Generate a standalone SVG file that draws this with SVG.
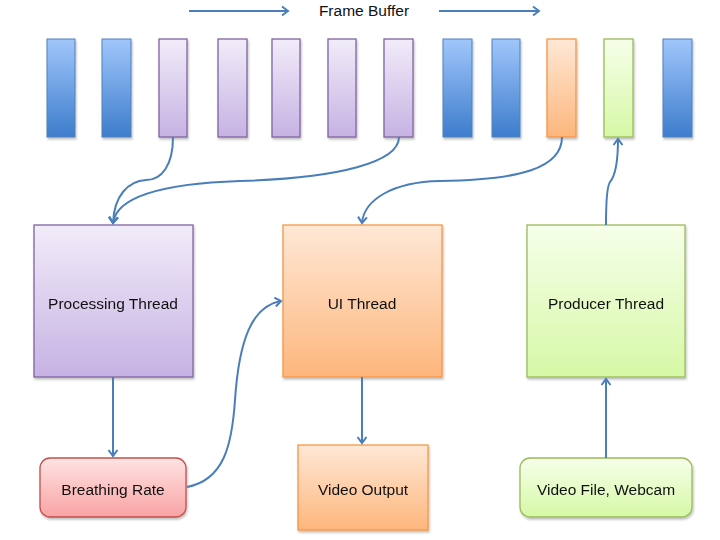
<svg xmlns="http://www.w3.org/2000/svg" width="720" height="540" viewBox="0 0 720 540">
<defs>
  <linearGradient id="gBlue" x1="0" y1="0" x2="0" y2="1">
    <stop offset="0" stop-color="#a0c6fb"/>
    <stop offset="1" stop-color="#3d7dcc"/>
  </linearGradient>
  <linearGradient id="gPurple" x1="0" y1="0" x2="0" y2="1">
    <stop offset="0" stop-color="#f1ecf9"/>
    <stop offset="1" stop-color="#c6b2e3"/>
  </linearGradient>
  <linearGradient id="gOrange" x1="0" y1="0" x2="0" y2="1">
    <stop offset="0" stop-color="#ffe8d6"/>
    <stop offset="1" stop-color="#fdb67c"/>
  </linearGradient>
  <linearGradient id="gGreen" x1="0" y1="0" x2="0" y2="1">
    <stop offset="0" stop-color="#f6ffea"/>
    <stop offset="1" stop-color="#d6f8a6"/>
  </linearGradient>
  <linearGradient id="gRed" x1="0" y1="0" x2="0" y2="1">
    <stop offset="0" stop-color="#ffe3e3"/>
    <stop offset="1" stop-color="#f9a3a3"/>
  </linearGradient>
  <filter id="shadow" x="-10%" y="-10%" width="130%" height="130%">
    <feDropShadow dx="1" dy="2" stdDeviation="1.2" flood-color="#000" flood-opacity="0.25"/>
  </filter>
  <marker id="arrow" viewBox="-8 -6 10 12" markerWidth="10" markerHeight="12" refX="0" refY="0" markerUnits="userSpaceOnUse" orient="auto">
    <path d="M-6,-4.5 L0,0 L-6,4.5" fill="none" stroke="#4a7ebb" stroke-width="2" stroke-linejoin="miter"/>
  </marker>
</defs>
<style>
  .lbl { font-family: "Liberation Sans", Arial, sans-serif; font-size: 15.5px; fill: #111; text-anchor: middle; }
  .blue { fill: url(#gBlue); stroke: #4f81bd; stroke-width: 1; }
  .purple { fill: url(#gPurple); stroke: #8064a2; stroke-width: 1.3; }
  .orange { fill: url(#gOrange); stroke: #f79646; stroke-width: 1.3; }
  .green { fill: url(#gGreen); stroke: #9bbb59; stroke-width: 1.3; }
  .red { fill: url(#gRed); stroke: #c0504d; stroke-width: 1.3; }
  .conn { fill: none; stroke: #4a7ebb; stroke-width: 2; marker-end: url(#arrow); }
  .sh { filter: url(#shadow); }
</style>
<rect width="720" height="540" fill="#ffffff"/>

<g id="title">
  <text class="lbl" x="364" y="16">Frame Buffer</text>
</g>

<g id="frames" class="sh">
  <rect id="f1" class="blue" x="47" y="39" width="28" height="98"/>
  <rect id="f2" class="blue" x="102" y="39" width="29" height="98"/>
  <rect id="f3" class="purple" x="159" y="39" width="28" height="98"/>
  <rect id="f4" class="purple" x="218" y="39" width="29" height="98"/>
  <rect id="f5" class="purple" x="272" y="39" width="28" height="98"/>
  <rect id="f6" class="purple" x="328" y="39" width="28" height="98"/>
  <rect id="f7" class="purple" x="384" y="39" width="29" height="98"/>
  <rect id="f8" class="blue" x="443" y="39" width="29" height="98"/>
  <rect id="f9" class="blue" x="492" y="39" width="28" height="98"/>
  <rect id="f10" class="orange" x="547" y="39" width="29" height="98"/>
  <rect id="f11" class="green" x="604" y="39" width="29" height="98"/>
  <rect id="f12" class="blue" x="663" y="39" width="29" height="98"/>
</g>

<g id="processing" class="sh">
  <rect class="purple" x="34" y="225" width="159" height="152"/>
  <text class="lbl" x="113" y="309">Processing Thread</text>
</g>

<g id="ui" class="sh">
  <rect class="orange" x="283" y="225" width="159" height="152"/>
  <text class="lbl" x="362" y="309">UI Thread</text>
</g>

<g id="producer" class="sh">
  <rect class="green" x="527" y="225" width="158" height="152"/>
  <text class="lbl" x="606" y="309">Producer Thread</text>
</g>

<g id="breathing" class="sh">
  <rect class="red" x="40" y="458" width="146" height="59" rx="10" ry="10"/>
  <text class="lbl" x="113" y="495">Breathing Rate</text>
</g>

<g id="videoout" class="sh">
  <rect class="orange" x="298" y="445" width="130" height="85"/>
  <text class="lbl" x="363" y="495">Video Output</text>
</g>

<g id="source" class="sh">
  <rect class="green" x="520" y="458" width="172" height="59" rx="10" ry="10"/>
  <text class="lbl" x="606" y="495">Video File, Webcam</text>
</g>

<g id="connectors">
  <path class="conn" d="M189,11 L288,11"/>
  <path class="conn" d="M439,11 L539,11"/>
  <path class="conn" d="M173,137 C173,165 162,180 146,180 C128,181 114,196 113,223"/>
  <path class="conn" d="M399,137 C399,162 340,178 240,181 C152,184 116,200 113,223"/>
  <path class="conn" d="M562,137 C562,168 520,180 440,181 C392,182 364,200 362,223"/>
  <path class="conn" d="M606,225 C606,200 607,186 610,182 C616,175 618,162 618,139"/>
  <path class="conn" d="M113,377 L113,456"/>
  <path class="conn" d="M187,487 C224,480 232,445 235,400 C239,340 252,306 281,301"/>
  <path class="conn" d="M362,377 L362,443"/>
  <path class="conn" d="M606,458 L606,379"/>
</g>
</svg>
